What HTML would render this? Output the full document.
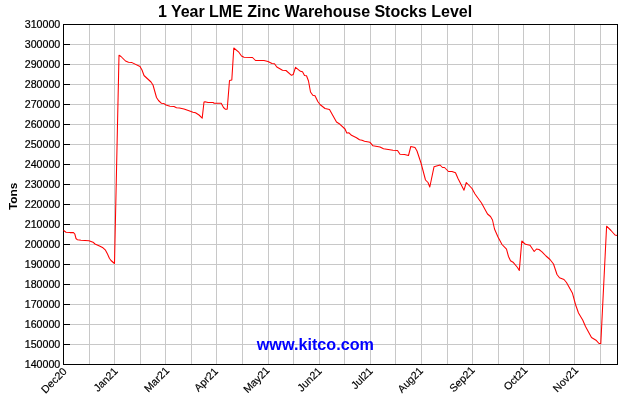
<!DOCTYPE html>
<html><head><meta charset="utf-8"><title>1 Year LME Zinc Warehouse Stocks Level</title>
<style>html,body{margin:0;padding:0;background:#fff}svg{display:block;will-change:transform;opacity:0.999}text{font-family:"Liberation Sans",Arial,sans-serif}</style></head><body>
<svg width="630" height="400" viewBox="0 0 630 400">
<rect width="630" height="400" fill="#ffffff"/>
<g shape-rendering="crispEdges" fill="#c8c8c8">
<rect x="89" y="25" width="1" height="339"/>
<rect x="114" y="25" width="1" height="339"/>
<rect x="140" y="25" width="1" height="339"/>
<rect x="165" y="25" width="1" height="339"/>
<rect x="191" y="25" width="1" height="339"/>
<rect x="216" y="25" width="1" height="339"/>
<rect x="242" y="25" width="1" height="339"/>
<rect x="268" y="25" width="1" height="339"/>
<rect x="293" y="25" width="1" height="339"/>
<rect x="319" y="25" width="1" height="339"/>
<rect x="344" y="25" width="1" height="339"/>
<rect x="370" y="25" width="1" height="339"/>
<rect x="395" y="25" width="1" height="339"/>
<rect x="421" y="25" width="1" height="339"/>
<rect x="447" y="25" width="1" height="339"/>
<rect x="472" y="25" width="1" height="339"/>
<rect x="498" y="25" width="1" height="339"/>
<rect x="523" y="25" width="1" height="339"/>
<rect x="549" y="25" width="1" height="339"/>
<rect x="574" y="25" width="1" height="339"/>
<rect x="600" y="25" width="1" height="339"/>
<rect x="64" y="44" width="553" height="1"/>
<rect x="64" y="64" width="553" height="1"/>
<rect x="64" y="84" width="553" height="1"/>
<rect x="64" y="104" width="553" height="1"/>
<rect x="64" y="124" width="553" height="1"/>
<rect x="64" y="144" width="553" height="1"/>
<rect x="64" y="164" width="553" height="1"/>
<rect x="64" y="184" width="553" height="1"/>
<rect x="64" y="204" width="553" height="1"/>
<rect x="64" y="224" width="553" height="1"/>
<rect x="64" y="244" width="553" height="1"/>
<rect x="64" y="264" width="553" height="1"/>
<rect x="64" y="284" width="553" height="1"/>
<rect x="64" y="304" width="553" height="1"/>
<rect x="64" y="324" width="553" height="1"/>
<rect x="64" y="344" width="553" height="1"/>
</g>
<g shape-rendering="crispEdges" fill="#000">
<rect x="63" y="24" width="555" height="1"/>
<rect x="63" y="364" width="555" height="1"/>
<rect x="63" y="24" width="1" height="341"/>
<rect x="617" y="24" width="1" height="341"/>
<rect x="64" y="44" width="6" height="1"/>
<rect x="64" y="64" width="6" height="1"/>
<rect x="64" y="84" width="6" height="1"/>
<rect x="64" y="104" width="6" height="1"/>
<rect x="64" y="124" width="6" height="1"/>
<rect x="64" y="144" width="6" height="1"/>
<rect x="64" y="164" width="6" height="1"/>
<rect x="64" y="184" width="6" height="1"/>
<rect x="64" y="204" width="6" height="1"/>
<rect x="64" y="224" width="6" height="1"/>
<rect x="64" y="244" width="6" height="1"/>
<rect x="64" y="264" width="6" height="1"/>
<rect x="64" y="284" width="6" height="1"/>
<rect x="64" y="304" width="6" height="1"/>
<rect x="64" y="324" width="6" height="1"/>
<rect x="64" y="344" width="6" height="1"/>
</g>
<polyline fill="none" stroke="#ff0000" stroke-width="1.05" stroke-linejoin="round" points="63.5,230.5 64.0,230.8 66.0,232.2 70.0,232.6 73.5,232.6 74.8,234.0 76.0,238.5 77.5,239.8 81.0,240.2 89.0,240.7 93.0,242.2 95.0,244.0 100.0,246.2 103.0,247.8 105.5,250.2 107.5,254.0 109.5,258.5 111.0,260.5 114.5,263.5 119.0,55.2 121.0,56.5 125.5,61.0 128.5,62.2 132.0,62.6 140.0,66.5 142.0,70.0 144.0,75.5 151.0,82.0 153.0,85.0 156.5,97.5 158.5,100.5 161.5,103.3 164.0,103.6 166.0,105.0 170.0,106.2 174.0,106.5 176.5,107.7 179.5,108.0 184.0,109.0 189.0,110.8 193.0,112.2 195.5,112.8 199.0,115.0 202.2,118.1 204.0,102.0 205.0,101.8 208.0,102.4 213.0,102.5 214.2,103.3 221.2,103.3 223.5,107.5 225.5,109.3 227.2,109.3 229.5,80.5 231.8,80.0 233.8,48.0 238.5,51.8 241.5,56.0 244.0,57.3 252.5,57.5 255.5,60.5 264.0,60.5 268.0,61.5 272.0,63.5 274.5,63.7 276.8,67.0 282.5,70.3 286.0,70.5 291.5,75.3 293.2,74.5 295.5,67.3 300.5,71.3 302.5,71.8 304.5,75.5 306.5,75.8 308.5,81.0 310.5,92.0 312.8,95.2 315.0,95.8 317.8,101.5 320.0,104.5 325.0,108.5 329.5,109.5 332.0,114.0 336.5,122.0 340.0,124.3 345.0,129.0 346.8,133.0 349.0,132.8 351.5,135.3 356.5,137.7 359.5,139.8 362.0,140.3 364.5,141.3 370.0,142.3 373.0,145.8 380.0,147.0 383.5,148.8 393.0,150.3 397.5,150.5 400.0,154.3 404.5,154.5 408.5,155.5 410.8,146.5 415.0,147.5 417.0,151.0 421.0,163.0 425.5,180.0 428.0,182.5 429.8,187.0 434.0,166.8 440.0,165.0 442.5,167.5 444.5,167.5 448.5,171.5 452.0,171.5 455.5,172.8 458.0,178.5 464.0,190.2 466.3,182.5 472.0,188.5 475.0,194.0 481.5,203.0 487.5,214.0 490.5,216.5 492.5,220.0 494.5,229.0 498.0,237.0 502.0,244.5 506.5,249.2 508.5,256.5 510.5,260.8 513.0,262.2 517.5,267.5 519.3,270.5 521.8,241.0 525.5,244.3 530.0,245.3 534.2,251.5 536.5,249.0 539.0,249.5 542.0,251.8 546.0,256.0 550.0,259.5 553.5,264.0 557.0,274.5 559.5,277.8 564.0,279.5 566.5,282.5 572.5,293.3 575.5,304.5 578.5,313.0 582.7,320.0 585.5,326.5 591.5,337.5 596.0,340.2 599.0,343.5 600.8,343.6 606.6,226.2 611.0,230.5 615.0,235.0 617.0,235.5"/>
<text x="315" y="17" text-anchor="middle" font-size="16" font-weight="bold" textLength="314.2" lengthAdjust="spacing">1 Year LME Zinc Warehouse Stocks Level</text>
<text x="315.4" y="349.5" text-anchor="middle" font-size="16.2" font-weight="bold" fill="#0000ff">www.kitco.com</text>
<text transform="translate(17,196.4) rotate(-90)" text-anchor="middle" font-size="11.3" font-weight="bold" textLength="27.4" lengthAdjust="spacingAndGlyphs">Tons</text>
<g font-size="10.67" text-anchor="end" stroke="#000" stroke-width="0.22">
<text x="60.3" y="27.8">310000</text>
<text x="60.3" y="47.8">300000</text>
<text x="60.3" y="67.8">290000</text>
<text x="60.3" y="87.8">280000</text>
<text x="60.3" y="107.8">270000</text>
<text x="60.3" y="127.8">260000</text>
<text x="60.3" y="147.8">250000</text>
<text x="60.3" y="167.8">240000</text>
<text x="60.3" y="187.8">230000</text>
<text x="60.3" y="207.8">220000</text>
<text x="60.3" y="227.8">210000</text>
<text x="60.3" y="247.8">200000</text>
<text x="60.3" y="267.8">190000</text>
<text x="60.3" y="287.8">180000</text>
<text x="60.3" y="307.8">170000</text>
<text x="60.3" y="327.8">160000</text>
<text x="60.3" y="347.8">150000</text>
<text x="60.3" y="367.8">140000</text>
</g>
<g font-size="10.67" text-anchor="end" stroke="#000" stroke-width="0.15">
<text transform="translate(64.7,369.4) rotate(-45)" y="3.8">Dec20</text>
<text transform="translate(115.8,369.1) rotate(-45)" y="3.8">Jan21</text>
<text transform="translate(167.2,368.6) rotate(-45)" y="3.8">Mar21</text>
<text transform="translate(216.0,369.4) rotate(-45)" y="3.8">Apr21</text>
<text transform="translate(267.6,368.3) rotate(-45)" y="3.8">May21</text>
<text transform="translate(319.7,369.0) rotate(-45)" y="3.8">Jun21</text>
<text transform="translate(370.8,369.0) rotate(-45)" y="3.8">Jul21</text>
<text transform="translate(421.0,368.9) rotate(-45)" y="3.8">Aug21</text>
<text transform="translate(472.8,368.2) rotate(-45)" y="3.8">Sep21</text>
<text transform="translate(525.4,368.2) rotate(-45)" y="3.8">Oct21</text>
<text transform="translate(576.3,368.2) rotate(-45)" y="3.8">Nov21</text>
</g>
</svg></body></html>
